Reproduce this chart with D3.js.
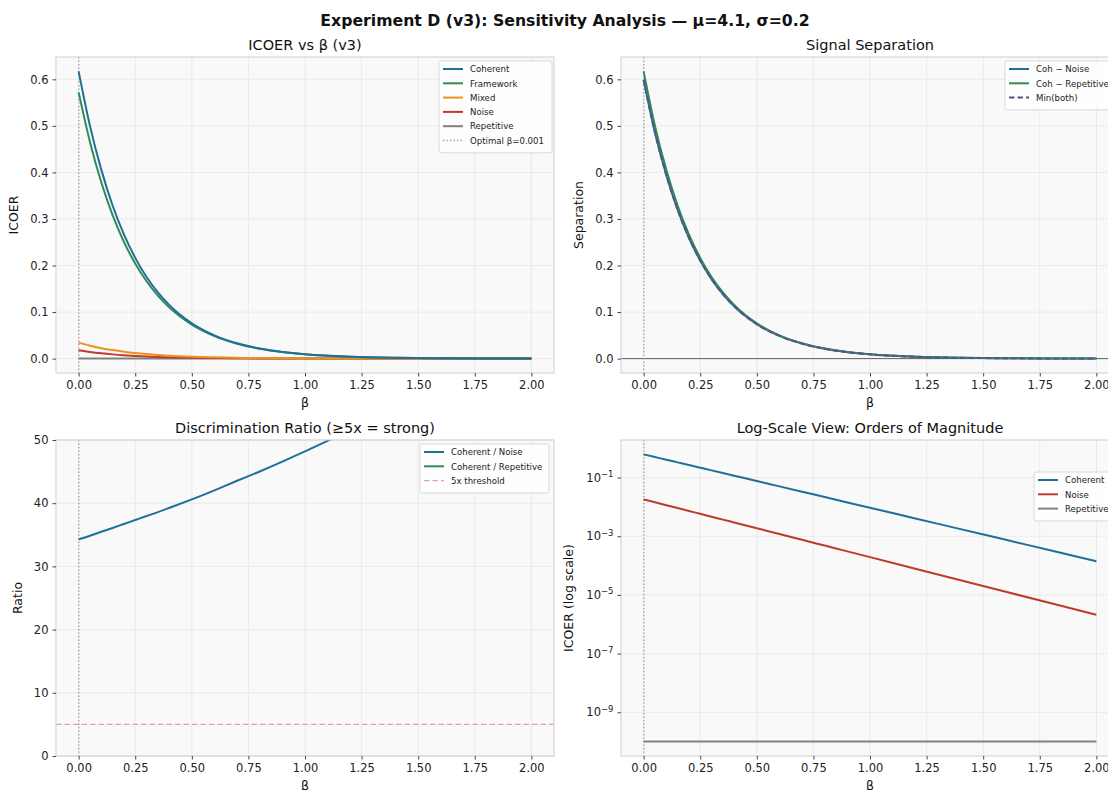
<!DOCTYPE html>
<html>
<head>
<meta charset="utf-8">
<script src="https://cdn.jsdelivr.net/npm/d3@7"></script>
<style>
  body { margin: 0; background: #fff; }
  svg { font-family: "DejaVu Sans", sans-serif; display: block; }
</style>
</head>
<body>
<svg id="chart" width="1108" height="790"></svg>
<script>
// values
const beta = [0, 0.05, 0.1, 0.15, 0.2, 0.25, 0.3, 0.35, 0.4, 0.5, 0.6, 0.7, 0.8, 0.9, 1.0, 1.2, 1.4, 1.6, 1.8, 2.0];
const coherent = [0.617, 0.500, 0.406, 0.329, 0.267, 0.2165, 0.1755, 0.1423, 0.1154, 0.0759, 0.0500, 0.0329, 0.0216, 0.0142, 0.00935, 0.00404, 0.00175, 0.000756, 0.000327, 0.000141];
const framework = [0.572, 0.4656, 0.3789, 0.3083, 0.2509, 0.2042, 0.1662, 0.1353, 0.1101, 0.0729, 0.0483, 0.0320, 0.0212, 0.0140, 0.00929, 0.00407, 0.00179, 0.000784, 0.000344, 0.000151];
const mixed = [0.0343, 0.0278, 0.0225, 0.0183, 0.0148, 0.0120, 0.00973, 0.00789, 0.00639, 0.00420, 0.00276, 0.00181, 0.00119, 0.00078, 0.000514, 0.000222, 0.000096, 0.0000414, 0.0000179, 0.0000077];
const noise = [0.018, 0.01435, 0.01144, 0.00912, 0.00727, 0.00580, 0.00462, 0.00369, 0.00294, 0.00187, 0.00119, 0.000755, 0.000480, 0.000305, 0.000194, 0.0000784, 0.0000317, 0.0000128, 0.00000518, 0.0000021];
const repetitive = [1e-10, 1e-10, 1e-10, 1e-10, 1e-10, 1e-10, 1e-10, 1e-10, 1e-10, 1e-10, 1e-10, 1e-10, 1e-10, 1e-10, 1e-10, 1e-10, 1e-10, 1e-10, 1e-10, 1e-10];
const optimalBeta = 0.001;
const threshold = 5;

const xTicks = [0, 0.25, 0.5, 0.75, 1.0, 1.25, 1.5, 1.75, 2.0];
const linTicks = [0, 0.1, 0.2, 0.3, 0.4, 0.5, 0.6];
const ratioTicks = [0, 10, 20, 30, 40, 50];
const logTicks = [1e-1, 1e-3, 1e-5, 1e-7, 1e-9];

const C = {
  coherent: "#1f6f98", framework: "#2e8b57", mixed: "#f0901e", noise: "#c0392b",
  repetitive: "#808080", minboth: "#5d4f8c", thresh: "#e8928a"
};

const svg = d3.select("#chart");
svg.append("text").attr("x", 565).attr("y", 26).attr("text-anchor", "middle")
  .attr("font-size", 15.7).attr("font-weight", "bold").attr("fill", "#111")
  .text("Experiment D (v3): Sensitivity Analysis — μ=4.1, σ=0.2");

let clipId = 0;
function panel(o) {
  const x = d3.scaleLinear().domain([-0.1, 2.1]).range([o.x0, o.x0 + o.w]);
  const y = o.y;
  const g = svg.append("g");
  g.append("rect").attr("x", o.x0).attr("y", o.y0).attr("width", o.w).attr("height", o.h).attr("fill", "#f9f9f9");

  // grid
  g.selectAll(".gx").data(xTicks).enter().append("line")
    .attr("x1", d => x(d)).attr("x2", d => x(d)).attr("y1", o.y0).attr("y2", o.y0 + o.h)
    .attr("stroke", "#e6e6e6").attr("stroke-width", 0.8);
  g.selectAll(".gy").data(o.yTicks).enter().append("line")
    .attr("y1", d => y(d)).attr("y2", d => y(d)).attr("x1", o.x0).attr("x2", o.x0 + o.w)
    .attr("stroke", "#e6e6e6").attr("stroke-width", 0.8);

  const id = "clip" + (clipId++);
  svg.append("clipPath").attr("id", id).append("rect")
    .attr("x", o.x0).attr("y", o.y0).attr("width", o.w).attr("height", o.h);
  const plot = g.append("g").attr("clip-path", `url(#${id})`);

  if (o.zeroLine) {
    plot.append("line").attr("x1", o.x0).attr("x2", o.x0 + o.w).attr("y1", y(0)).attr("y2", y(0))
      .attr("stroke", "#000").attr("stroke-width", 0.6);
  }
  if (o.hline) {
    plot.append("line").attr("x1", o.x0).attr("x2", o.x0 + o.w).attr("y1", y(o.hline.v)).attr("y2", y(o.hline.v))
      .attr("stroke", o.hline.color).attr("stroke-width", 1.4).attr("stroke-dasharray", "5.5,3").attr("opacity", 0.85);
  }
  plot.append("line").attr("x1", x(optimalBeta)).attr("x2", x(optimalBeta)).attr("y1", o.y0).attr("y2", o.y0 + o.h)
    .attr("stroke", "#999").attr("stroke-width", 1.3).attr("stroke-dasharray", "1.3,2.2");

  o.series.forEach(s => {
    const line = d3.line().x((d, i) => x(beta[i])).y(d => y(d)).curve(s.curve || d3.curveMonotoneX);
    plot.append("path").attr("d", line(s.values)).attr("fill", "none")
      .attr("stroke", s.color).attr("stroke-width", 2)
      .attr("stroke-dasharray", s.dash || null);
  });

  // spines
  g.append("rect").attr("x", o.x0).attr("y", o.y0).attr("width", o.w).attr("height", o.h)
    .attr("fill", "none").attr("stroke", "#cfcfcf").attr("stroke-width", 1);

  // axes
  const ax = g.append("g").attr("transform", `translate(0,${o.y0 + o.h})`)
    .call(d3.axisBottom(x).tickValues(xTicks).tickFormat(d3.format(".2f")).tickSize(3.5).tickPadding(4));
  const ay = g.append("g").attr("transform", `translate(${o.x0},0)`)
    .call(d3.axisLeft(y).tickValues(o.yTicks).tickFormat(o.yFormat || null).tickSize(3.5).tickPadding(4));
  [ax, ay].forEach(a => {
    a.select(".domain").remove();
    a.selectAll("line").attr("stroke", "#444");
    a.selectAll("text").attr("font-size", 11.5).attr("fill", "#222").attr("font-family", "DejaVu Sans");
  });
  if (o.logLabels) {
    ay.selectAll("text").text(null).each(function(d) {
      const t = d3.select(this);
      t.append("tspan").text("10");
      t.append("tspan").attr("dy", "-0.55em").attr("font-size", 8.5).text("−" + Math.round(-Math.log10(d)));
    });
  }

  g.append("text").attr("x", o.x0 + o.w / 2).attr("y", o.y0 - 7).attr("text-anchor", "middle")
    .attr("font-size", 14.5).attr("fill", "#111").text(o.title);
  g.append("text").attr("x", o.x0 + o.w / 2).attr("y", o.y0 + o.h + 34).attr("text-anchor", "middle")
    .attr("font-size", 12.5).attr("fill", "#111").text("β");
  g.append("text").attr("transform", `translate(${o.x0 - o.ylabOff},${o.y0 + o.h / 2}) rotate(-90)`)
    .attr("text-anchor", "middle").attr("font-size", 12.5).attr("fill", "#111").text(o.ylabel);

  // legend
  const L = o.legend;
  const lg = g.append("g");
  const rowH = 14.3;
  lg.append("rect").attr("x", L.x).attr("y", L.y).attr("width", L.w).attr("height", L.items.length * rowH + 6)
    .attr("rx", 2).attr("fill", "#fff").attr("fill-opacity", 0.85).attr("stroke", "#d0d0d0").attr("stroke-width", 0.8);
  L.items.forEach((it, i) => {
    const cy = L.y + 8 + i * rowH;
    lg.append("line").attr("x1", L.x + 4).attr("x2", L.x + 24).attr("y1", cy).attr("y2", cy)
      .attr("stroke", it.color).attr("stroke-width", it.lw || 2).attr("stroke-dasharray", it.dash || null)
      .attr("opacity", it.op || 1);
    lg.append("text").attr("x", L.x + 31).attr("y", cy + 3.2).attr("font-size", 8.6).attr("fill", "#222").text(it.label);
  });
}

const H = 316, W = 498;
const yLin = d3.scaleLinear().domain([-0.0309, 0.648]).range([57 + H, 57]);

panel({
  x0: 56, y0: 57, w: W, h: H, y: yLin, yTicks: linTicks, yFormat: d3.format(".1f"),
  title: "ICOER vs β (v3)", ylabel: "ICOER", ylabOff: 38,
  series: [
    { values: repetitive.map(() => 0), color: C.repetitive },
    { values: noise, color: C.noise },
    { values: mixed, color: C.mixed },
    { values: framework, color: C.framework },
    { values: coherent, color: C.coherent }
  ],
  legend: { x: 439, y: 61, w: 113, items: [
    { label: "Coherent", color: C.coherent },
    { label: "Framework", color: C.framework },
    { label: "Mixed", color: C.mixed },
    { label: "Noise", color: C.noise },
    { label: "Repetitive", color: C.repetitive },
    { label: "Optimal β=0.001", color: "#999", dash: "1.3,2.2", lw: 1.3 }
  ]}
});

const cohNoise = coherent.map((v, i) => v - noise[i]);
const cohRep = coherent.map((v, i) => v - repetitive[i]);
const minBoth = cohNoise.map((v, i) => Math.min(v, cohRep[i]));

panel({
  x0: 621, y0: 57, w: W, h: H, y: d3.scaleLinear().domain([-0.0309, 0.648]).range([57 + H, 57]),
  yTicks: linTicks, yFormat: d3.format(".1f"), zeroLine: true,
  title: "Signal Separation", ylabel: "Separation", ylabOff: 38,
  series: [
    { values: cohNoise, color: C.coherent },
    { values: cohRep, color: C.framework },
    { values: minBoth, color: C.minboth, dash: "5.5,3" }
  ],
  legend: { x: 1005, y: 61, w: 114, items: [
    { label: "Coh − Noise", color: C.coherent },
    { label: "Coh − Repetitive", color: C.framework },
    { label: "Min(both)", color: C.minboth, dash: "5.5,3" }
  ]}
});

const ratioNoise = coherent.map((v, i) => v / noise[i]);
const ratioRep = coherent.map((v, i) => v / repetitive[i]);

panel({
  x0: 56, y0: 440, w: W, h: H, y: d3.scaleLinear().domain([0, 50]).range([440 + H, 440]),
  yTicks: ratioTicks, yFormat: d3.format("d"), hline: { v: threshold, color: C.thresh },
  title: "Discrimination Ratio (≥5x = strong)", ylabel: "Ratio", ylabOff: 34,
  series: [
    { values: ratioNoise, color: C.coherent, curve: d3.curveBasis },
    { values: ratioRep, color: C.framework }
  ],
  legend: { x: 420, y: 444, w: 129, items: [
    { label: "Coherent / Noise", color: C.coherent },
    { label: "Coherent / Repetitive", color: C.framework },
    { label: "5x threshold", color: C.thresh, dash: "5.5,3", lw: 1.4, op: 0.85 }
  ]}
});

panel({
  x0: 621, y0: 440, w: W, h: H, y: d3.scaleLog().domain([Math.pow(10, -10.49), Math.pow(10, 0.28)]).range([440 + H, 440]),
  yTicks: logTicks, logLabels: true,
  title: "Log-Scale View: Orders of Magnitude", ylabel: "ICOER (log scale)", ylabOff: 48,
  series: [
    { values: coherent, color: C.coherent },
    { values: noise, color: C.noise },
    { values: repetitive, color: C.repetitive }
  ],
  legend: { x: 1034, y: 472, w: 90, items: [
    { label: "Coherent", color: C.coherent },
    { label: "Noise", color: C.noise },
    { label: "Repetitive", color: C.repetitive }
  ]}
});
</script>
</body>
</html>
